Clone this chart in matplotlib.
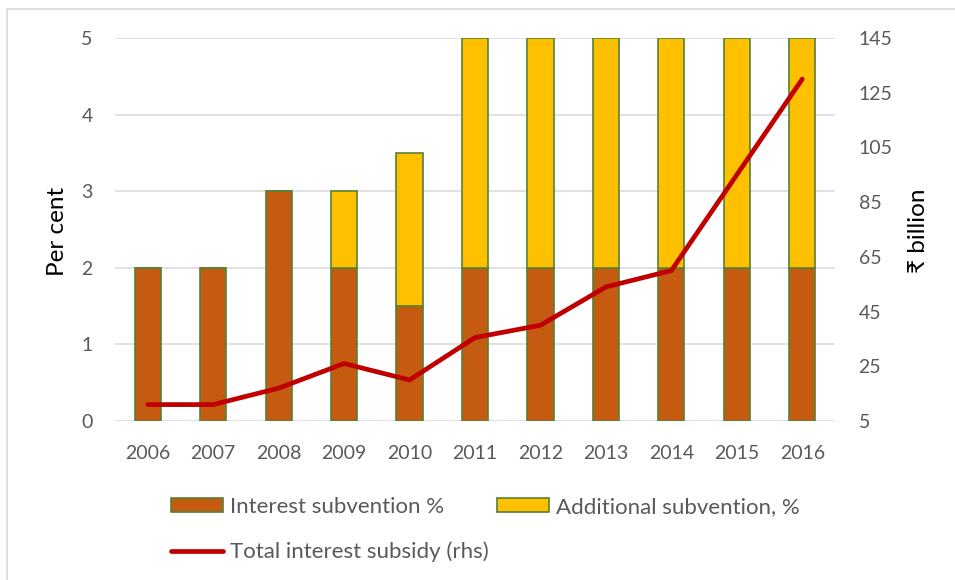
import matplotlib
matplotlib.use("Agg")
import matplotlib.pyplot as plt
from matplotlib.patches import Patch, Rectangle
from matplotlib.lines import Line2D
import numpy as np

years = ["2006", "2007", "2008", "2009", "2010", "2011", "2012", "2013", "2014", "2015", "2016"]
interest_subvention = [2, 2, 3, 2, 1.5, 2, 2, 2, 2, 2, 2]
additional_subvention = [0, 0, 0, 1, 2, 3, 3, 3, 3, 3, 3]
total_subsidy = [11, 11, 17, 26, 20, 35.5, 40, 54, 60, 95, 130]

left_ticks = [0, 1, 2, 3, 4, 5]
right_ticks = [5, 25, 45, 65, 85, 105, 125, 145]

BROWN = "#C55A11"
YELLOW = "#FFC000"
EDGE = "#548235"
RED = "#C00000"
GRID = "#D9D9D9"
TICK = "#595959"

plt.rcParams["font.family"] = ["Lato", "DejaVu Sans"]

W, H = 955, 580
fig = plt.figure(figsize=(W / 100, H / 100), dpi=100)
ax = fig.add_axes([115 / W, 1 - 421 / H, 720 / W, 383 / H])

x = np.arange(len(years))
ax.bar(x, interest_subvention, width=0.4, color=BROWN, edgecolor=EDGE, linewidth=1.2, zorder=2)
ax.bar(x, additional_subvention, width=0.4, bottom=interest_subvention,
       color=YELLOW, edgecolor=EDGE, linewidth=1.2, zorder=2)

ax.set_xlim(-0.5, len(years) - 0.5)
ax.set_ylim(0, 5)
ax.set_yticks(left_ticks)
ax.set_xticks(x)
ax.set_xticklabels(years)
ax.grid(axis="y", color=GRID, linewidth=1.1, zorder=0)
ax.set_axisbelow(True)
for s in ax.spines.values():
    s.set_visible(False)
ax.tick_params(axis="both", length=0, labelsize=14, labelcolor=TICK)
ax.tick_params(axis="x", pad=17)
ax.tick_params(axis="y", pad=16)

ax2 = ax.twinx()
ax2.plot(x, total_subsidy, color=RED, linewidth=3.4, solid_capstyle="round",
         solid_joinstyle="miter", zorder=3)
ax2.set_ylim(5, 145)
ax2.set_yticks(right_ticks)
for s in ax2.spines.values():
    s.set_visible(False)
ax2.tick_params(axis="y", length=0, labelsize=14, labelcolor=TICK, pad=17)

# axis titles
fig.text(58 / W, 1 - 231 / H, "Per cent", rotation=90, fontsize=17.5,
         ha="center", va="center", color="black")
fig.text(918 / W, 1 - 231 / H, "₹ billion", rotation=90, fontsize=17.5,
         ha="center", va="center", color="black")

handles = [
    Patch(facecolor=BROWN, edgecolor=EDGE, linewidth=1.2),
    Line2D([0], [0], color=RED, linewidth=3.4, solid_capstyle="round"),
    Patch(facecolor=YELLOW, edgecolor=EDGE, linewidth=1.2),
]
labels = ["Interest subvention %", "Total interest subsidy (rhs)", "Additional subvention, %"]
leg = fig.legend(handles, labels, ncol=2, loc="upper left",
                 bbox_to_anchor=(171 / W, 1 - 497 / H), frameon=False,
                 fontsize=16, handlelength=2.34, handleheight=0.63,
                 handletextpad=0.32, columnspacing=0.36, labelspacing=1.12,
                 borderaxespad=0, borderpad=0)
for t in leg.get_texts():
    t.set_color(TICK)

fig.patches.append(Rectangle((7 / W, -0.1), 1.2, (1 - 9 / H) + 0.1, transform=fig.transFigure,
                             fill=False, edgecolor=GRID, linewidth=1.2))

fig.savefig("out.png", dpi=100)
